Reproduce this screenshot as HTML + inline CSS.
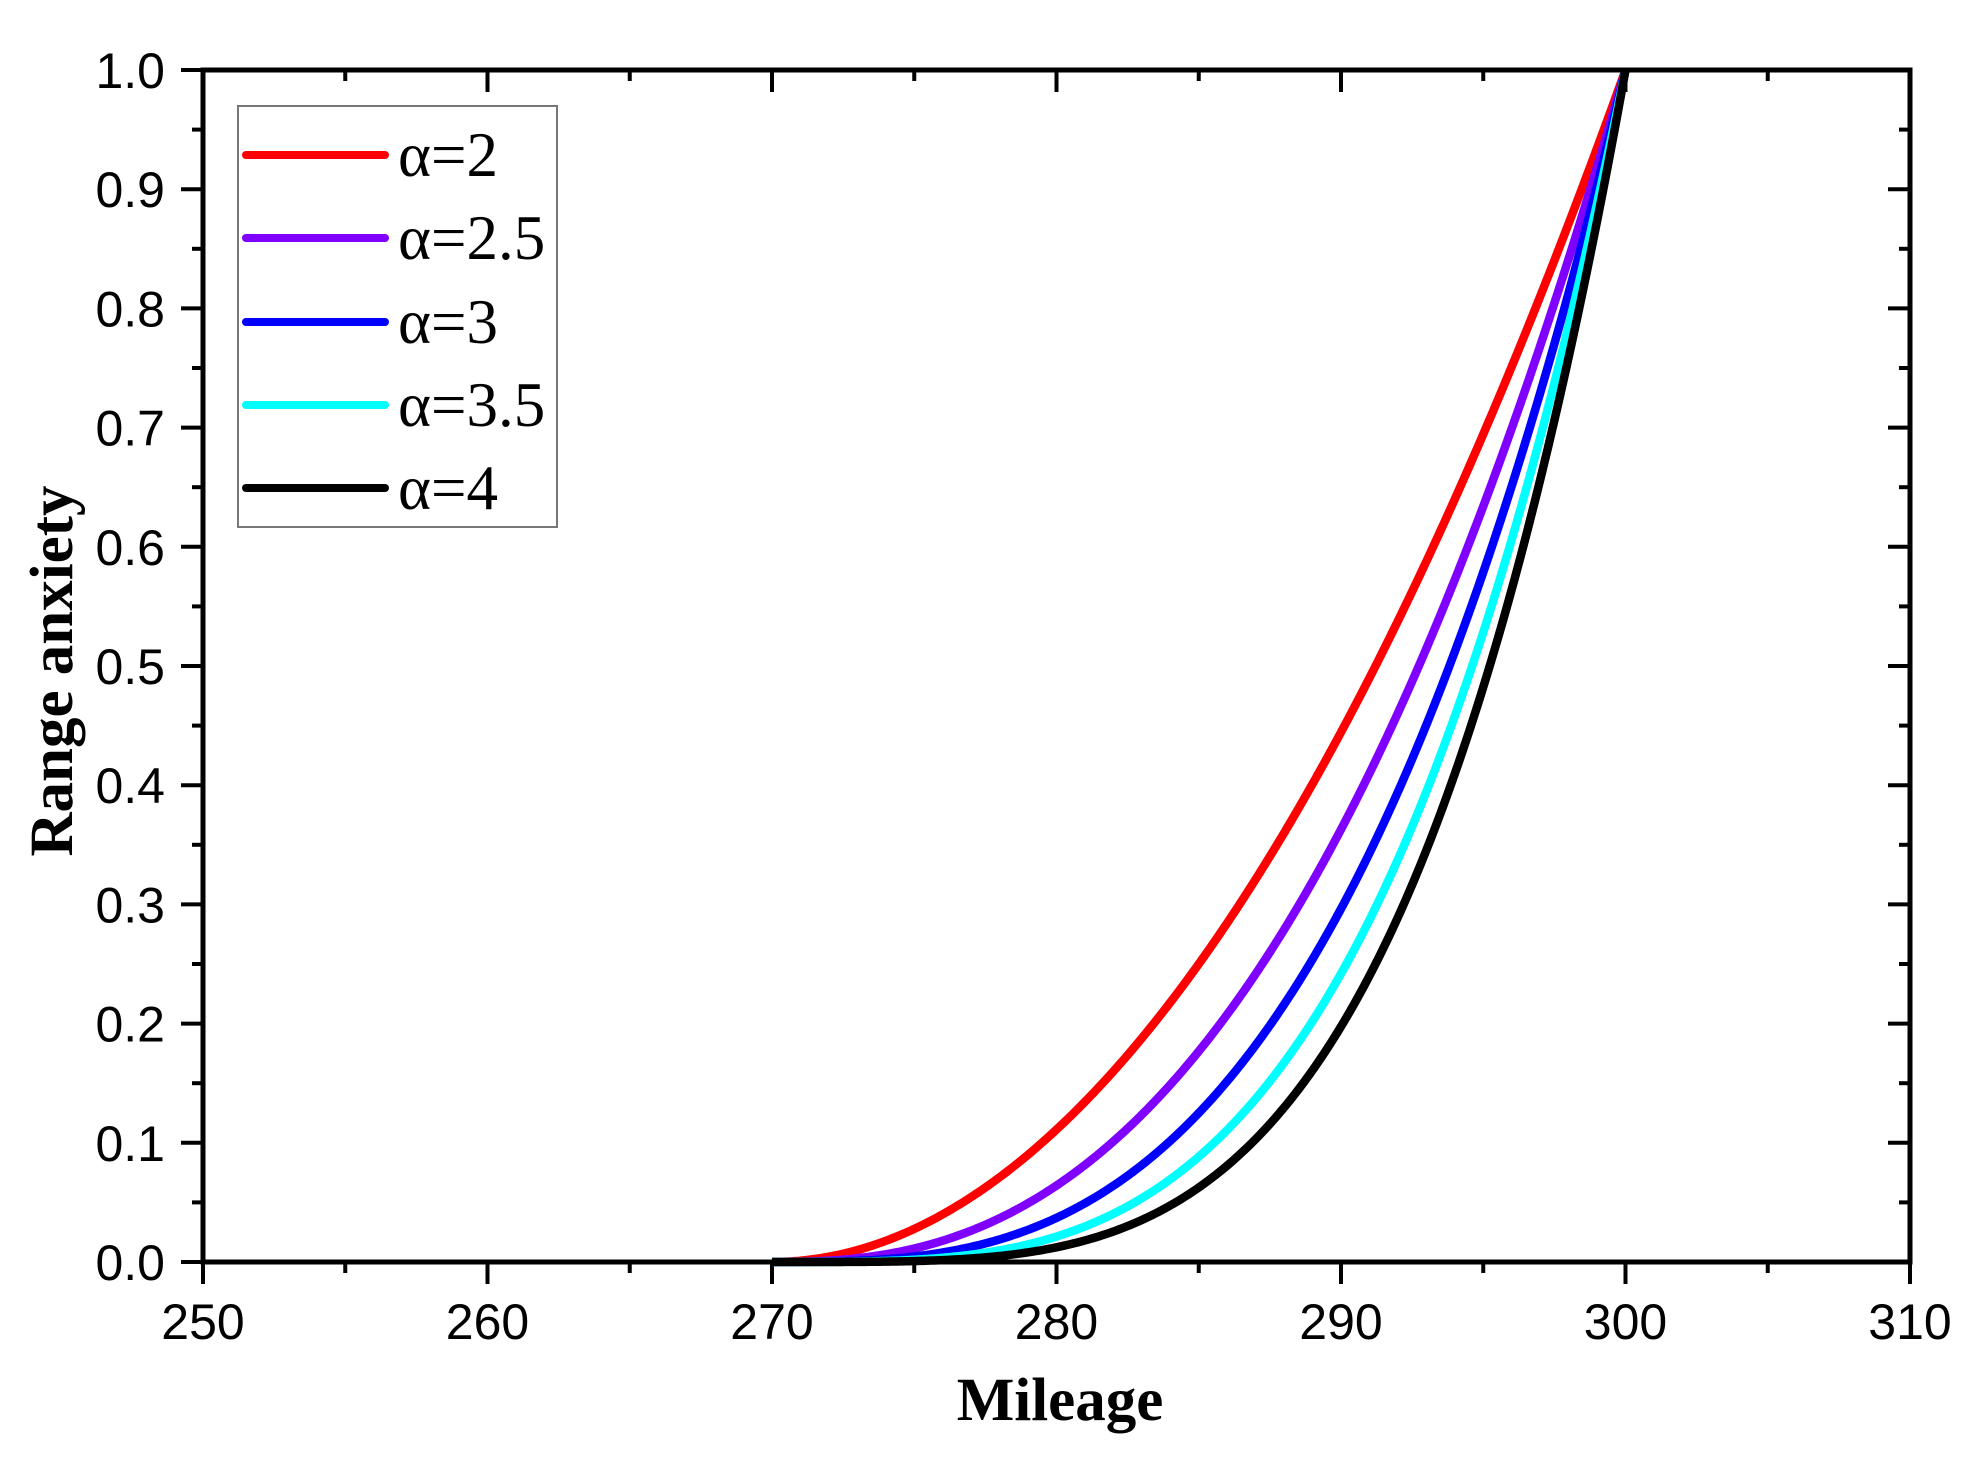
<!DOCTYPE html>
<html><head><meta charset="utf-8"><style>
html,body{margin:0;padding:0;background:#fff;}
svg{display:block;}
</style></head><body>
<svg id="s" width="1977" height="1459" xmlns="http://www.w3.org/2000/svg">
<rect width="1977" height="1459" fill="#fff"/>
<g id="ticks" stroke="#000" stroke-width="4"></g>
<g id="curves" fill="none" stroke-width="8.5" stroke-linejoin="round"></g>
<rect x="203" y="70" width="1707" height="1192" fill="none" stroke="#000" stroke-width="5"/>
<g id="labels" font-family="Liberation Sans, Arial, sans-serif" font-size="50" fill="#000"></g>
<rect x="238" y="106" width="319" height="421" fill="#fff" stroke="#777" stroke-width="2"/>
<g stroke-width="8" stroke-linecap="round">
<line x1="246" y1="155" x2="385" y2="155" stroke="#ff0000"/>
<line x1="246" y1="238" x2="385" y2="238" stroke="#8000ff"/>
<line x1="246" y1="322" x2="385" y2="322" stroke="#0000ff"/>
<line x1="246" y1="405" x2="385" y2="405" stroke="#00ffff"/>
<line x1="246" y1="488" x2="385" y2="488" stroke="#000000"/>
</g>
<g font-family="Liberation Serif, Times New Roman, serif" font-size="63" fill="#000">
<text x="398" y="176">α=2</text>
<text x="398" y="259">α=2.5</text>
<text x="398" y="343">α=3</text>
<text x="398" y="426">α=3.5</text>
<text x="398" y="509">α=4</text>
</g>
<text x="1060" y="1420" text-anchor="middle" font-family="Liberation Serif, Times New Roman, serif" font-weight="bold" font-size="61">Mileage</text>
<text transform="translate(72,671) rotate(-90)" text-anchor="middle" font-family="Liberation Serif, Times New Roman, serif" font-weight="bold" font-size="61">Range anxiety</text>
</svg>
<script>
var NS="http://www.w3.org/2000/svg";
var L=203,R=1910,T=70,B=1262;
function X(v){return L+(v-250)/60*(R-L);}
function Y(v){return B-v*(B-T);}
function el(p,tag,a,txt){var e=document.createElementNS(NS,tag);for(var k in a)e.setAttribute(k,a[k]);if(txt!=null)e.textContent=txt;document.getElementById(p).appendChild(e);}
for(var i=0;i<=12;i++){var v=250+i*5,x=X(v),maj=i%2==0,len=maj?22:11;
 el("ticks","line",{x1:x,y1:B,x2:x,y2:B+len});
 el("ticks","line",{x1:x,y1:T,x2:x,y2:T+len});
 if(maj)el("labels","text",{x:x,y:1339,"text-anchor":"middle"},String(v));}
for(var i=0;i<=20;i++){var v=i*0.05,y=Y(v),maj=i%2==0,len=maj?22:11;
 el("ticks","line",{x1:L,y1:y,x2:L-len,y2:y});
 el("ticks","line",{x1:R,y1:y,x2:R-len,y2:y});
 if(maj)el("labels","text",{x:165,y:y+18,"text-anchor":"end"},v.toFixed(1));}
var cs=[[2,"#ff0000"],[2.5,"#8000ff"],[3,"#0000ff"],[3.5,"#00ffff"],[4,"#000000"]];
cs.forEach(function(c){var d="";for(var k=0;k<=300;k++){var m=270+k*0.1;var yv=Math.pow((m-270)/30,c[0]);d+=(k?"L":"M")+X(m).toFixed(2)+","+Y(yv).toFixed(2);}
 el("curves","path",{d:d,stroke:c[1]});});
</script>
</body></html>
